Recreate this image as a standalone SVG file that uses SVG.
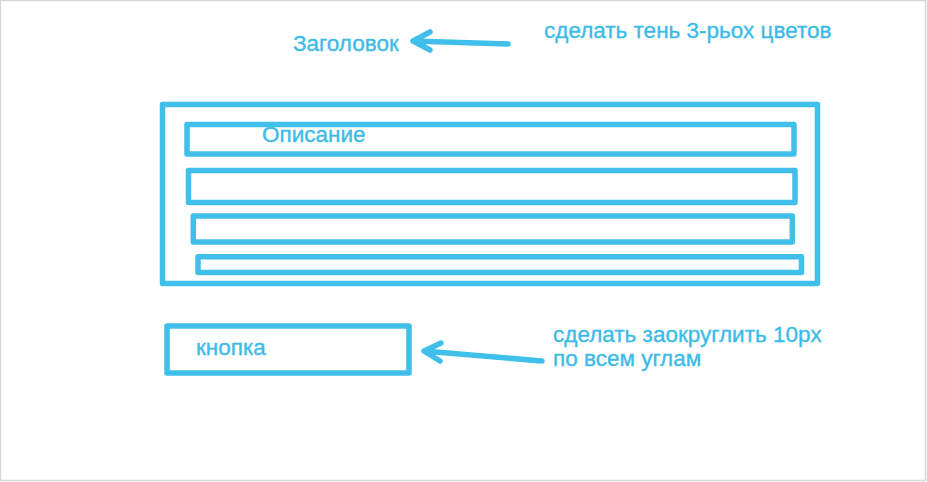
<svg xmlns="http://www.w3.org/2000/svg" width="927" height="482" viewBox="0 0 927 482">
<style>
.box{fill:none;stroke:#41bfeb;stroke-width:5.5;stroke-linejoin:round}
.t{font-family:"Liberation Sans",Arial,sans-serif;font-size:22.5px;fill:#3cbbe8;stroke:#3cbbe8;stroke-width:0.35}
.c{fill:none;stroke:#41bfeb;stroke-width:5.5;stroke-linecap:round;stroke-linejoin:round}
</style>
<rect x="0" y="0" width="927" height="482" fill="#ffffff"/>
<rect x="0.5" y="0.5" width="925" height="480" fill="none" stroke="#d6d6d6" stroke-width="1.5"/>
<g id="title">
<text class="t" x="293" y="51">Заголовок</text>
</g>
<g id="note-shadow">
<text class="t" x="544" y="38">сделать тень 3-рьох цветов</text>
</g>
<g id="card">
<rect class="box" x="162.5" y="104.5" width="655" height="179"/>
</g>
<g id="description">
<rect class="box" x="187" y="124.5" width="607" height="29.5"/>
<text class="t" x="262" y="142">Описание</text>
</g>
<g id="line2">
<rect class="box" x="188.5" y="170.5" width="606.5" height="32"/>
</g>
<g id="line3">
<rect class="box" x="193.3" y="216" width="599" height="26"/>
</g>
<g id="line4">
<rect class="box" x="198" y="256.7" width="603.5" height="15.8"/>
</g>
<g id="button">
<rect class="box" x="167" y="326" width="242" height="47"/>
<text class="t" x="196" y="355">кнопка</text>
</g>
<g id="note-radius">
<text class="t" x="553" y="342">сделать заокруглить 10px</text>
<text class="t" x="553" y="366">по всем углам</text>
</g>
<g id="connectors">
<path class="c" d="M508 44 L413 41 M430 32 L413 41 L430 50"/>
<path class="c" d="M542 361 L424 351 M441 343 L424 351 L440 361"/>
</g>
</svg>
